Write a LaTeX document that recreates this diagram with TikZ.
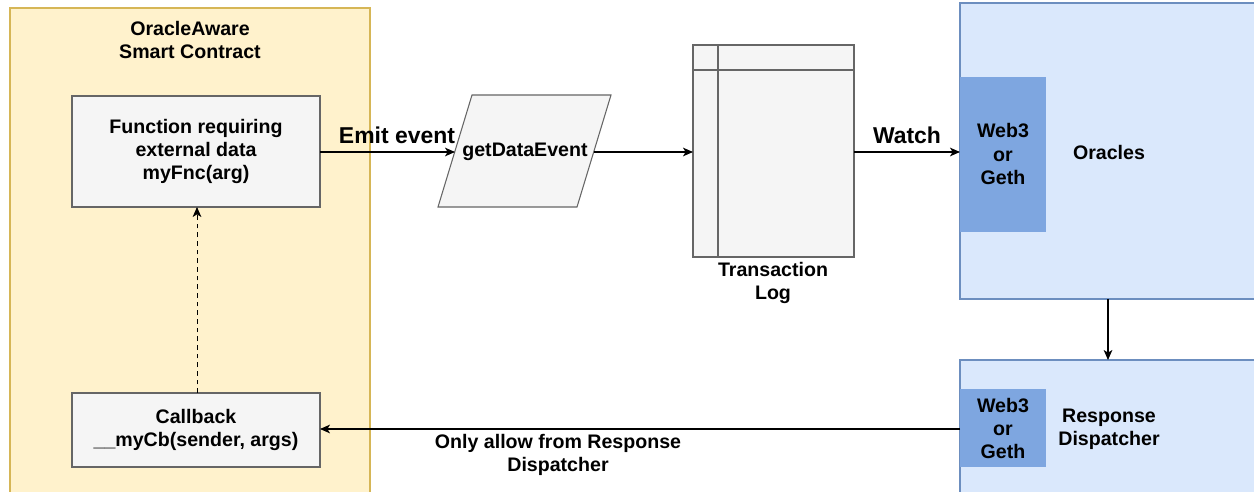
\documentclass[tikz,border=0pt]{standalone}
\usepackage{fontspec}
\setmainfont{Liberation Sans}
\usetikzlibrary{arrows.meta,shapes.geometric}
\definecolor{ylwfill}{HTML}{FFF2CC}
\definecolor{ylwdraw}{HTML}{D6B656}
\definecolor{gryfill}{HTML}{F5F5F5}
\definecolor{grydraw}{HTML}{666666}
\definecolor{blufill}{HTML}{DAE8FC}
\definecolor{bludraw}{HTML}{6C8EBF}
\definecolor{webfill}{HTML}{7EA6E0}
\tikzset{
  boxtext/.style={font=\bfseries\fontsize{14.7}{17.4}\selectfont, align=center, inner sep=0pt},
  lbltext/.style={font=\bfseries\fontsize{17.2}{20}\selectfont, inner sep=0pt},
  graybox/.style={fill=gryfill, draw=grydraw, line width=0.8pt},
  conn/.style={line width=0.8pt, -{Stealth[length=7.5pt,width=6.5pt,inset=2pt]}},
}
\begin{document}
\begin{tikzpicture}[x=0.75pt,y=-0.75pt]
\useasboundingbox (0,0) rectangle (1254,492);
% container
\fill[ylwfill] (10,8) rectangle (370,495);
\draw[ylwdraw, line width=0.8pt] (10,495) -- (10,8) -- (370,8) -- (370,495);
\node[boxtext] (title) at (190,40) {OracleAware\\Smart Contract};
% function box
\draw[graybox] (72,96) rectangle (320,207);
\node[boxtext] (fnc) at (196,151.5) {Function requiring\\external data\\myFnc(arg)};
\coordinate (fncR) at (320,152);
\coordinate (fncB) at (197,207);
% callback box
\draw[graybox] (72,393) rectangle (320,467);
\node[boxtext] (cb) at (196,430) {Callback\\\_\_myCb(sender, args)};
\coordinate (cbR) at (320,429);
\coordinate (cbT) at (197,393);
% parallelogram
\draw[graybox] (472,95) -- (611,95) -- (577,207) -- (438,207) -- cycle;
\node[boxtext] (evt) at (525,152) {getDataEvent};
\coordinate (evtL) at (455,152);
\coordinate (evtR) at (594,152);
% transaction log
\draw[graybox] (693,45) rectangle (854,257);
\draw[grydraw, line width=0.8pt] (718,45) -- (718,257);
\draw[grydraw, line width=0.8pt] (693,70) -- (854,70);
\coordinate (logL) at (693,152);
\coordinate (logR) at (854,152);
\node[boxtext, anchor=north] (loglbl) at (773,262) {Transaction\\Log};
% oracles
\fill[blufill] (960,3) rectangle (1260,299);
\draw[bludraw, line width=0.8pt] (1260,3) -- (960,3) -- (960,299) -- (1260,299);
\fill[webfill] (960,77) rectangle (1046,232);
\node[boxtext] (web1) at (1003,154) {Web3\\or\\Geth};
\node[boxtext] (orc) at (1109,152) {Oracles};
\coordinate (orcL) at (960,152);
\coordinate (orcB) at (1108,299);
% response dispatcher
\fill[blufill] (960,360) rectangle (1260,495);
\draw[bludraw, line width=0.8pt] (1260,360) -- (960,360) -- (960,495);
\fill[webfill] (960,389) rectangle (1046,467);
\node[boxtext] (web2) at (1003,428.5) {Web3\\or\\Geth};
\node[boxtext] (rd) at (1109,429) {Response\\Dispatcher};
\coordinate (rdT) at (1108,360);
\coordinate (rdL) at (960,429);
% connectors
\draw[conn] (fncR) -- node[lbltext, above=6pt, pos=0.57] {Emit event} (evtL);
\draw[conn] (evtR) -- (logL);
\draw[conn] (logR) -- node[lbltext, above=6pt] {Watch} (orcL);
\draw[conn] (orcB) -- (rdT);
\draw[conn] (rdL) -- (cbR);
\node[boxtext] (only) at (558,455) {Only allow from Response\\Dispatcher};
\draw[conn, dashed, dash pattern=on 3.5pt off 3pt, line width=0.7pt] (cbT) -- (fncB);
\end{tikzpicture}
\end{document}
